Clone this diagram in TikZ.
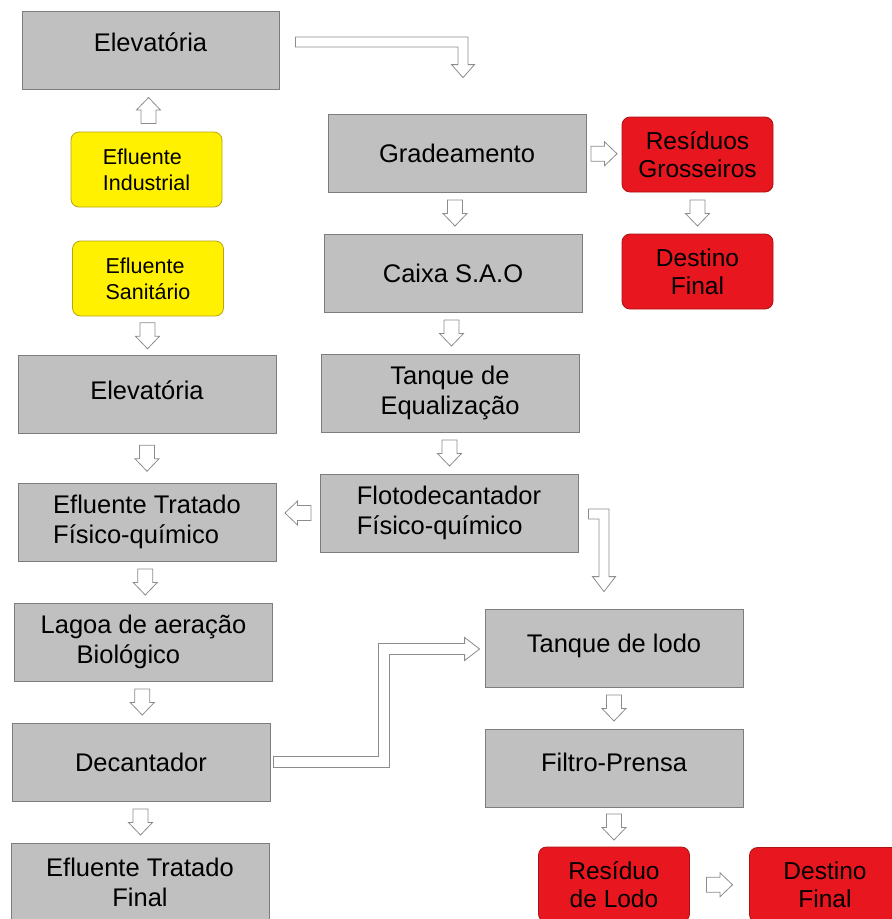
\documentclass[tikz,border=0pt]{standalone}
\usepackage{fontspec}
\setmainfont{Liberation Sans}
\usepackage{tikz}
\usetikzlibrary{calc,positioning,shapes}
\definecolor{boxgray}{RGB}{192,192,192}
\definecolor{boxline}{RGB}{125,125,125}
\definecolor{feedyellow}{RGB}{255,241,0}
\definecolor{feedline}{RGB}{185,165,20}
\definecolor{wastered}{RGB}{232,22,30}
\definecolor{wasteline}{RGB}{170,20,20}
\definecolor{arrowline}{RGB}{140,140,140}
\newcommand{\flowarrow}[3]{%
  \begin{scope}[shift={($(#1)!0.5!(#2)$)}, rotate=#3]
    \draw[flow] (-13pt,-7.5pt) -- (0.5pt,-7.5pt) -- (0.5pt,-12pt) -- (13pt,0pt)
      -- (0.5pt,12pt) -- (0.5pt,7.5pt) -- (-13pt,7.5pt) -- cycle;
  \end{scope}}

\begin{document}
\begin{tikzpicture}[x=1pt, y=-1pt]
\tikzstyle{main}=[rectangle, draw=boxline, fill=boxgray, line width=0.8pt, minimum width=258pt, minimum height=78pt, node distance=120pt, font=\fontsize{25.5}{30}\selectfont, align=center, inner sep=2pt]
\tikzstyle{feed}=[main, rounded corners=8pt, fill=feedyellow, draw=feedline, minimum width=151pt, minimum height=75pt, font=\fontsize{21.5}{26}\selectfont, align=left]
\tikzstyle{waste}=[main, rounded corners=8pt, fill=wastered, draw=wasteline, minimum width=151pt, minimum height=75pt, font=\fontsize{24.5}{28}\selectfont]
\tikzstyle{flow}=[draw=arrowline, fill=white, line width=0.8pt, line join=miter]

  \clip (0,0) rectangle (892,919);

  % left column
  \node[main, minimum width=257pt] (elev1) at (150.5,50) {\raisebox{16pt}{Elevatória}};
  \node[feed] (ind)     at (146.5,169.5)            {Efluente\\Industrial};
  \node[feed] (san)     at (148,278.5)              {Efluente\\Sanitário};
  \node[main] (elev2)   at (147,394.5)              {\raisebox{8pt}{Elevatória}};
  \node[main, align=left] (efftrat) [below of =elev2, yshift=-7.5pt] {Efluente Tratado\\Físico-químico};
  \node[main, align=left] (lagoa) [below of =efftrat, xshift=-3.5pt] {Lagoa de aeração\\\hspace*{36pt}Biológico};
  \node[main] (decant)  [below of =lagoa, xshift=-2.5pt]   {Decantador};
  \node[main] (final)   [below of =decant, xshift=-1pt]    {Efluente Tratado\\Final};

  % right column
  \node[main] (grad)    at (457,153)                {Gradeamento};
  \node[main] (caixa)   [below of =grad, xshift=-4pt]      {Caixa S.A.O};
  \node[main] (tanque)  [below of =caixa, xshift=-3pt]     {Tanque de\\Equalização};
  \node[main, align=left] (floto) [below of =tanque, xshift=-1pt] {Flotodecantador\\Físico-químico};
  \node[waste] (res1)   at (697.5,154.5)            {Resíduos\\Grosseiros};
  \node[waste] (dest1)  [below of =res1, yshift=3pt]       {Destino\\Final};
  \node[main] (lodo)    at (614,648)                {\raisebox{10pt}{Tanque de lodo}};
  \node[main] (filtro)  [below of =lodo]                   {\raisebox{12pt}{Filtro-Prensa}};
  \node[waste] (reslodo) [below of =filtro, yshift=3.5pt]  {Resíduo\\de Lodo};
  \node[waste] (dest2)  at (825,885)                {Destino\\Final};

  % bent arrows
  \coordinate (a1) at ($(elev1.east)+(16,-8)$);
  \coordinate (a3) at ($(grad.north)+(6,-36)$);
  \coordinate (a2) at (a1 -| a3);
  \draw[flow] ($(a1)+(0,-5)$) -- ($(a2)+(5,-5)$) -- ($(a3)+(5,-13)$) -- ($(a3)+(11.5,-13)$) -- (a3)
    -- ($(a3)+(-11.5,-13)$) -- ($(a3)+(-5,-13)$) -- ($(a2)+(-5,5)$) -- ($(a1)+(0,5)$) -- cycle;

  \coordinate (b1) at ($(floto.east)+(10,1)$);
  \coordinate (b3) at ($(lodo.north)+(-10,-17)$);
  \coordinate (b2) at (b1 -| b3);
  \draw[flow] ($(b1)+(0,-5)$) -- ($(b2)+(5,-5)$) -- ($(b3)+(5,-15)$) -- ($(b3)+(11.5,-15)$) -- (b3)
    -- ($(b3)+(-11.5,-15)$) -- ($(b3)+(-5,-15)$) -- ($(b2)+(-5,5)$) -- ($(b1)+(0,5)$) -- cycle;

  \coordinate (c1) at ($(decant.east)+(3,0)$);
  \coordinate (c4) at ($(lodo.west)+(-5,1)$);
  \coordinate (c2) at ($(c1)+(110.5,0)$);
  \coordinate (c3) at (c2 |- c4);
  \draw[flow] ($(c1)+(0,-5.5)$) -- ($(c2)+(-5.5,-5.5)$) -- ($(c3)+(-5.5,-5.5)$) -- ($(c4)+(-15,-5.5)$)
    -- ($(c4)+(-15,-11.5)$) -- (c4) -- ($(c4)+(-15,11.5)$) -- ($(c4)+(-15,5.5)$)
    -- ($(c3)+(5.5,5.5)$) -- ($(c2)+(5.5,5.5)$) -- ($(c1)+(0,5.5)$) -- cycle;

  % straight arrows
  \flowarrow{ind.north}{elev1.south}{90}
  \flowarrow{san.south}{elev2.north}{270}
  \flowarrow{elev2.south}{efftrat.north}{270}
  \flowarrow{efftrat.south}{lagoa.north}{270}
  \flowarrow{lagoa.south}{decant.north}{270}
  \flowarrow{decant.south}{final.north}{270}
  \flowarrow{grad.south}{caixa.north}{270}
  \flowarrow{caixa.south}{tanque.north}{270}
  \flowarrow{tanque.south}{floto.north}{270}
  \flowarrow{floto.west}{floto.west -| efftrat.east}{180}
  \flowarrow{grad.east}{res1.west}{0}
  \flowarrow{res1.south}{dest1.north}{270}
  \flowarrow{lodo.south}{filtro.north}{270}
  \flowarrow{filtro.south}{reslodo.north}{270}
  \flowarrow{reslodo.east}{dest2.west}{0}

\end{tikzpicture}
\end{document}
